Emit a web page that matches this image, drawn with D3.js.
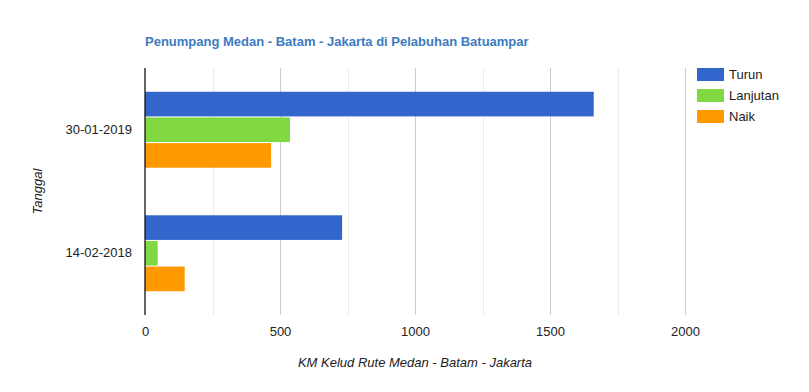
<!DOCTYPE html>
<html>
<head>
<meta charset="utf-8">
<script src="https://cdn.jsdelivr.net/npm/d3@7"></script>
<style>
body{margin:0;background:#fff;}
text{font-family:"Liberation Sans",Arial,sans-serif;}
</style>
</head>
<body>
<svg id="chart"></svg>
<script>
// data
var dates = ["30-01-2019","14-02-2018"];
var seriesNames = ["Turun","Lanjutan","Naik"];
var turun = [1662,730];
var lanjutan = [537,47];
var naik = [467,147];
var xTicks = [0,500,1000,1500,2000];
var colors = ["#3366cc","#80d940","#ff9900"];

var screen = {width:809,height:392}
var margins = {left:145,right:124,top:68,bottom:77}
var graph = {
    width:screen.width-margins.left-margins.right,
    height:screen.height-margins.top-margins.bottom
}

var svg = d3.select("#chart")
    .attr("width",screen.width)
    .attr("height",screen.height)

var xScale = d3.scaleLinear()
    .domain([0,2000])
    .range([0,graph.width])
var yScale = d3.scaleBand()
    .domain(dates)
    .range([0,graph.height])
    .paddingInner(0.385)
    .paddingOuter(0.1925)
var inner = d3.scaleBand()
    .domain(seriesNames)
    .range([0,yScale.bandwidth()])
    .paddingInner(0.04)

var target = svg.append("g")
    .attr("transform","translate("+margins.left+","+margins.top+")")

// gridlines, minor every 250
var gridVals = d3.range(250,2001,250)
target.selectAll("line.grid")
    .data(gridVals)
    .enter()
    .append("line")
    .attr("x1",function(d){return Math.round(xScale(d))+0.5})
    .attr("x2",function(d){return Math.round(xScale(d))+0.5})
    .attr("y1",0)
    .attr("y2",graph.height)
    .attr("stroke",function(d){return d%500==0?"#cccccc":"#ebebeb"})

var rows = dates.map(function(d,i){
    return {date:d,values:[turun[i],lanjutan[i],naik[i]]}
})

var groups = target.selectAll("g.grp")
    .data(rows)
    .enter()
    .append("g")
    .attr("transform",function(r){return "translate(0,"+yScale(r.date)+")"})

groups.selectAll("rect")
    .data(function(r){
        return r.values.map(function(v,j){return {name:seriesNames[j],value:v,color:colors[j]}})
    })
    .enter()
    .append("rect")
    .attr("x",0)
    .attr("y",function(d){return inner(d.name)})
    .attr("height",inner.bandwidth())
    .attr("width",function(d){return xScale(d.value)})
    .attr("fill",function(d){return d.color})

// baseline
target.append("line")
    .attr("x1",0).attr("x2",0)
    .attr("y1",0).attr("y2",graph.height)
    .attr("stroke","#111")
    .attr("stroke-width",1.3)

// x axis labels
var xAxis = d3.axisBottom(xScale).tickValues(xTicks).tickFormat(d3.format("d"))
    .tickSize(0).tickPadding(12)
var gx = target.append("g")
    .attr("transform","translate(0,"+graph.height+")")
    .call(xAxis)
gx.select(".domain").remove()
gx.selectAll("text").attr("font-size",13).attr("fill","#222")
    .attr("font-family","Liberation Sans, Arial, sans-serif")

// y axis labels
var yAxis = d3.axisLeft(yScale).tickSize(0).tickPadding(13)
var gy = target.append("g").call(yAxis)
gy.select(".domain").remove()
gy.selectAll("text").attr("font-size",13).attr("fill","#222")
    .attr("font-family","Liberation Sans, Arial, sans-serif")

// title and axis titles
svg.append("text")
    .text("Penumpang Medan - Batam - Jakarta di Pelabuhan Batuampar")
    .attr("x",145)
    .attr("y",46)
    .attr("font-size",13)
    .attr("font-weight","bold")
    .attr("fill","#3d7bc0")

svg.append("text")
    .text("KM Kelud Rute Medan - Batam - Jakarta")
    .attr("x",margins.left+graph.width/2)
    .attr("y",367)
    .attr("text-anchor","middle")
    .attr("font-size",13)
    .attr("font-style","italic")
    .attr("fill","#222")

svg.append("g")
    .attr("transform","translate(42,"+(margins.top+graph.height/2)+")")
    .append("text")
    .text("Tanggal")
    .attr("text-anchor","middle")
    .attr("transform","rotate(270)")
    .attr("font-size",13)
    .attr("font-style","italic")
    .attr("fill","#222")

// legend
var legend = svg.append("g")
    .attr("transform","translate(697,68)")
var entries = legend.selectAll("g")
    .data(seriesNames)
    .enter()
    .append("g")
    .attr("transform",function(d,i){return "translate(0,"+(i*21)+")"})
entries.append("rect")
    .attr("width",27)
    .attr("height",13)
    .attr("fill",function(d,i){return colors[i]})
entries.append("text")
    .text(function(d){return d})
    .attr("x",32)
    .attr("y",11)
    .attr("font-size",13)
    .attr("fill","#222")
</script>
</body>
</html>
